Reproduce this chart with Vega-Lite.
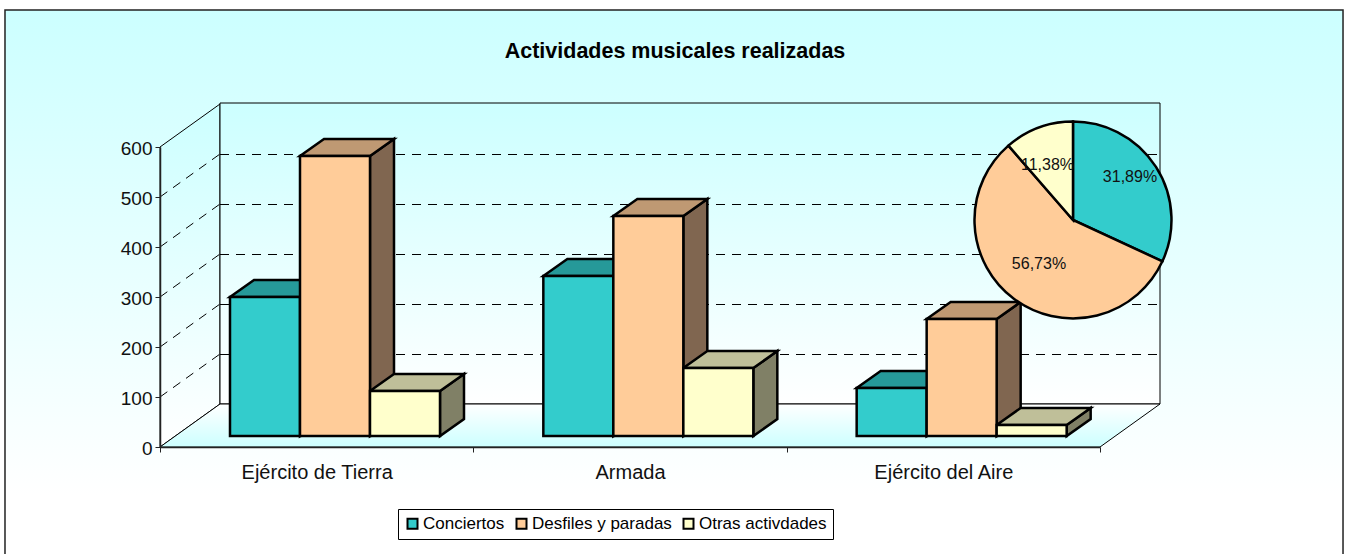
{
"$schema":"https://vega.github.io/schema/vega-lite/v6.json",
"width":940,"height":300,
"autosize":"none",
"padding":{"left":160,"top":147,"right":248,"bottom":107},
"background":"white",
"config":{"view":{"stroke":null},"font":"Liberation Sans"},
"title":{"text":"Actividades musicales realizadas","font":"Liberation Sans","fontSize":21.5,"fontWeight":"bold","color":"black","anchor":"middle","frame":"group","dx":45,"offset":-53},
"datasets":{
"bars":[
{"category":"Ejército de Tierra","series":"Conciertos","value":278},
{"category":"Ejército de Tierra","series":"Desfiles y paradas","value":560},
{"category":"Ejército de Tierra","series":"Otras activdades","value":90},
{"category":"Armada","series":"Conciertos","value":320},
{"category":"Armada","series":"Desfiles y paradas","value":440},
{"category":"Armada","series":"Otras activdades","value":136},
{"category":"Ejército del Aire","series":"Conciertos","value":96},
{"category":"Ejército del Aire","series":"Desfiles y paradas","value":234},
{"category":"Ejército del Aire","series":"Otras activdades","value":22}],
"grid":[{"v":100},{"v":200},{"v":300},{"v":400},{"v":500}],
"depth":[{"d":0},{"d":1}],
"pie":[
{"series":"Conciertos","pct":31.89},
{"series":"Desfiles y paradas","pct":56.73},
{"series":"Otras activdades","pct":11.38}]
},
"resolve":{"scale":{"x":"independent","color":"independent"},"axis":{"x":"independent","y":"independent"}},
"layer":[
{"data":{"values":[{"a":1}]},
 "mark":{"type":"rect","stroke":"#222222","strokeWidth":1.5,"fill":{"gradient":"linear","x1":0,"y1":0,"x2":0,"y2":1,"stops":[{"offset":0,"color":"#CCFFFF"},{"offset":0.87,"color":"#FFFFFF"},{"offset":1,"color":"#FFFFFF"}]}},
 "encoding":{
  "x":{"datum":-0.4947,"type":"quantitative","scale":{"domain":[0,3],"nice":false,"zero":false},"axis":null},
  "x2":{"datum":3.7756},
  "y":{"datum":874,"type":"quantitative","scale":{"domain":[0,600],"nice":false},"axis":{"values":[0,100,200,300,400,500,600],"title":null,"labelFont":"Liberation Sans","labelFontSize":19,"labelColor":"#111111","labelPadding":3,"labelOffset":1,"tickSize":5,"tickColor":"#222222","domainColor":"#222222","domainWidth":1.5,"grid":false,"zindex":1}},
  "y2":{"datum":-240}}},
{"data":{"name":"depth"},
 "transform":[{"calculate":"datum.d*0.1915","as":"x"},{"calculate":"600+datum.d*86","as":"y"},{"calculate":"datum.d*86","as":"y2"}],
 "mark":{"type":"area","stroke":"black","strokeWidth":1,"fill":{"gradient":"linear","x1":0,"y1":0,"x2":0,"y2":1,"stops":[{"offset":0,"color":"#CCFFFF"},{"offset":1,"color":"#FFFFFF"}]}},
 "encoding":{
  "x":{"field":"x","type":"quantitative","scale":{"domain":[0,3],"nice":false,"zero":false},"axis":null},
  "y":{"field":"y","type":"quantitative","stack":null,"scale":{"domain":[0,600],"nice":false},"axis":null},
  "y2":{"field":"y2"}}},
{"data":{"values":[{"a":1}]},
 "mark":{"type":"rect","stroke":"black","strokeWidth":1,"fill":{"gradient":"linear","x1":0,"y1":0,"x2":0,"y2":1,"stops":[{"offset":0,"color":"#CCFFFF"},{"offset":1,"color":"#FFFFFF"}]}},
 "encoding":{
  "x":{"datum":0.1915,"type":"quantitative","scale":{"domain":[0,3],"nice":false,"zero":false},"axis":null},
  "x2":{"datum":3.1915},
  "y":{"datum":86,"type":"quantitative","scale":{"domain":[0,600],"nice":false},"axis":null},
  "y2":{"datum":688}}},
{"data":{"name":"depth"},
 "transform":[{"calculate":"datum.d*86","as":"y"},{"calculate":"datum.d*0.1915","as":"xa"},{"calculate":"3+datum.d*0.1915","as":"xb"}],
 "mark":{"type":"area","orient":"horizontal","stroke":"black","strokeWidth":1,"fill":{"gradient":"linear","x1":0,"y1":1,"x2":0,"y2":0,"stops":[{"offset":0,"color":"#CCFFFF"},{"offset":1,"color":"#FFFFFF"}]}},
 "encoding":{
  "x":{"field":"xa","type":"quantitative","stack":null,"scale":{"domain":[0,3],"nice":false,"zero":false},"axis":null},
  "x2":{"field":"xb"},
  "y":{"field":"y","type":"quantitative","scale":{"domain":[0,600],"nice":false},"axis":null}}},
{"data":{"name":"grid"},
 "transform":[{"calculate":"datum.v+86","as":"vb"}],
 "mark":{"type":"rule","color":"black","strokeWidth":1,"strokeDash":[9,7],"yOffset":0.5},
 "encoding":{
  "x":{"datum":0.1915,"type":"quantitative","scale":{"domain":[0,3],"nice":false,"zero":false},"axis":null},
  "x2":{"datum":3.1915},
  "y":{"field":"vb","type":"quantitative","scale":{"domain":[0,600],"nice":false},"axis":null}}},
{"data":{"name":"grid"},
 "transform":[{"calculate":"datum.v+86","as":"vb"}],
 "mark":{"type":"rule","color":"black","strokeWidth":1,"strokeDash":[9,7]},
 "encoding":{
  "x":{"datum":0,"type":"quantitative","scale":{"domain":[0,3],"nice":false,"zero":false},"axis":null},
  "x2":{"datum":0.1915},
  "y":{"field":"v","type":"quantitative","scale":{"domain":[0,600],"nice":false},"axis":null},
  "y2":{"field":"vb"}}},
{"data":{"name":"bars"},
 "mark":{"type":"point","opacity":0},
 "encoding":{
  "x":{"field":"category","type":"nominal","sort":null,"scale":{"type":"band","domain":["Ejército de Tierra","Armada","Ejército del Aire"],"paddingInner":0,"paddingOuter":0},
   "axis":{"title":null,"labelAngle":0,"labelFont":"Liberation Sans","labelFontSize":20,"labelColor":"#111111","labelPadding":10,"tickBand":"extent","tickSize":5,"tickColor":"#222222","domainColor":"#222222","domainWidth":1.5,"grid":false,"zindex":1}}}},
{"data":{"name":"bars"},
 "transform":[
  {"calculate":"[0,1]","as":"t"},{"flatten":["t"]},
  {"calculate":"datum.category+datum.series","as":"key"},
  {"calculate":"indexof(['Ejército de Tierra','Armada','Ejército del Aire'],datum.category)+0.2234*(1+indexof(['Conciertos','Desfiles y paradas','Otras activdades'],datum.series))","as":"x0"},
  {"calculate":"datum.x0+0.2234+datum.t*0.0766","as":"x"},
  {"calculate":"datum.value+22+datum.t*34","as":"y"},
  {"calculate":"22+datum.t*34","as":"y2"}],
 "mark":{"type":"area","stroke":"black","strokeWidth":2.5,"strokeJoin":"miter"},
 "encoding":{
  "x":{"field":"x","type":"quantitative","scale":{"domain":[0,3],"nice":false,"zero":false},"axis":null},
  "y":{"field":"y","type":"quantitative","stack":null,"scale":{"domain":[0,600],"nice":false},"axis":null},
  "y2":{"field":"y2"},
  "detail":{"field":"key"},
  "color":{"field":"series","type":"nominal","scale":{"domain":["Conciertos","Desfiles y paradas","Otras activdades"],"range":["#1A6666","#806650","#808066"]},"legend":null}}},
{"data":{"name":"bars"},
 "transform":[
  {"calculate":"[0,1]","as":"t"},{"flatten":["t"]},
  {"calculate":"datum.category+datum.series","as":"key"},
  {"calculate":"indexof(['Ejército de Tierra','Armada','Ejército del Aire'],datum.category)+0.2234*(1+indexof(['Conciertos','Desfiles y paradas','Otras activdades'],datum.series))","as":"x0"},
  {"calculate":"datum.x0+datum.t*0.0766","as":"xa"},
  {"calculate":"datum.x0+0.2234+datum.t*0.0766","as":"xb"},
  {"calculate":"datum.value+22+datum.t*34","as":"y"}],
 "mark":{"type":"area","orient":"horizontal","stroke":"black","strokeWidth":2.5,"strokeJoin":"miter"},
 "encoding":{
  "x":{"field":"xa","type":"quantitative","stack":null,"scale":{"domain":[0,3],"nice":false,"zero":false},"axis":null},
  "x2":{"field":"xb"},
  "y":{"field":"y","type":"quantitative","scale":{"domain":[0,600],"nice":false},"axis":null},
  "detail":{"field":"key"},
  "color":{"field":"series","type":"nominal","scale":{"domain":["Conciertos","Desfiles y paradas","Otras activdades"],"range":["#269999","#BF9973","#BFBF99"]},"legend":null}}},
{"data":{"name":"bars"},
 "transform":[
  {"calculate":"indexof(['Ejército de Tierra','Armada','Ejército del Aire'],datum.category)+0.2234*(1+indexof(['Conciertos','Desfiles y paradas','Otras activdades'],datum.series))","as":"x0"},
  {"calculate":"datum.x0+0.2234","as":"x1"},
  {"calculate":"datum.value+22","as":"top"},
  {"calculate":"22","as":"base"}],
 "mark":{"type":"rect","stroke":"black","strokeWidth":2.5},
 "encoding":{
  "x":{"field":"x0","type":"quantitative","scale":{"domain":[0,3],"nice":false,"zero":false},"axis":null},
  "x2":{"field":"x1"},
  "y":{"field":"top","type":"quantitative","scale":{"domain":[0,600],"nice":false},"axis":null},
  "y2":{"field":"base"},
  "color":{"field":"series","type":"nominal","scale":{"domain":["Conciertos","Desfiles y paradas","Otras activdades"],"range":["#33CCCC","#FFCC99","#FFFFCC"]},
   "legend":{"title":null,"orient":"none","legendX":238,"legendY":362,"direction":"horizontal","columns":3,"symbolType":"square","symbolSize":100,"symbolStrokeColor":"black","symbolStrokeWidth":2,"symbolOpacity":1,"labelFont":"Liberation Sans","labelFontSize":17,"labelColor":"black","labelOffset":2,"columnPadding":7,"fillColor":"white","strokeColor":"black","padding":6}}}},
{"data":{"name":"pie"},
 "mark":{"type":"arc","outerRadius":98.5,"stroke":"black","strokeWidth":2.5},
 "encoding":{
  "x":{"datum":2.9138,"type":"quantitative","scale":{"domain":[0,3],"nice":false,"zero":false},"axis":null},
  "y":{"datum":454,"type":"quantitative","scale":{"domain":[0,600],"nice":false},"axis":null},
  "theta":{"field":"pct","type":"quantitative","stack":true},
  "order":{"field":"series","sort":"ascending"},
  "color":{"field":"series","type":"nominal","scale":{"domain":["Conciertos","Desfiles y paradas","Otras activdades"],"range":["#33CCCC","#FFCC99","#FFFFCC"]},"legend":null}}},
{"data":{"name":"pie"},
 "transform":[
  {"calculate":"replace(format(datum.pct,'.2f'),'.',',')+'%'","as":"label"},
  {"calculate":"2.9138+({'Conciertos':57,'Desfiles y paradas':-34,'Otras activdades':-25.5})[datum.series]/313.33","as":"lx"},
  {"calculate":"454+2*({'Conciertos':43,'Desfiles y paradas':-44,'Otras activdades':55})[datum.series]","as":"ly"}],
 "mark":{"type":"text","font":"Liberation Sans","fontSize":16,"color":"#111111","align":"center","baseline":"middle"},
 "encoding":{
  "x":{"field":"lx","type":"quantitative","scale":{"domain":[0,3],"nice":false,"zero":false},"axis":null},
  "y":{"field":"ly","type":"quantitative","scale":{"domain":[0,600],"nice":false},"axis":null},
  "text":{"field":"label"}}}
]
}
